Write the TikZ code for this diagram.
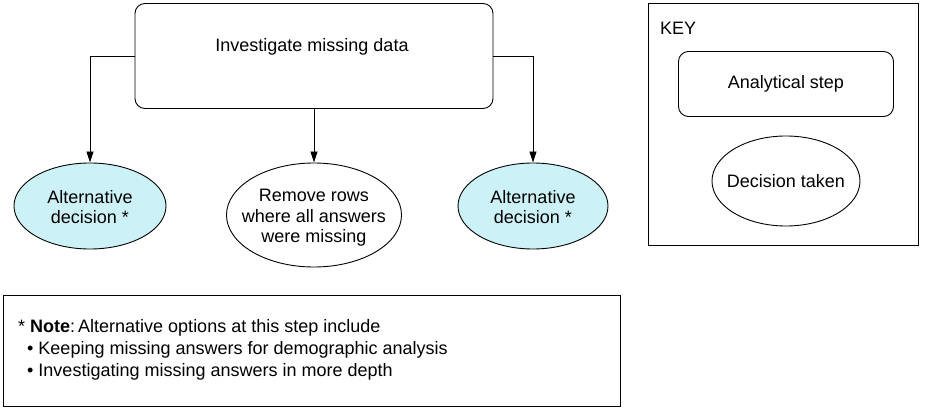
\documentclass[tikz,border=0pt]{standalone}
\usepackage{fontspec}
\setmainfont{Liberation Sans}
\usetikzlibrary{shapes.geometric,arrows.meta}
\definecolor{altfill}{RGB}{204,242,248}
\begin{document}
\begin{tikzpicture}[x=1pt,y=-1pt,
  every node/.style={font=\fontsize{18}{20.5}\selectfont},
  every label/.style={align=center, inner sep=0pt},
  stepbox/.style={draw, line width=0.9pt, rounded corners=10pt, align=center},
  decision/.style={draw, line width=0.9pt, ellipse, inner sep=0pt},
  frame/.style={draw, line width=0.9pt},
  conn/.style={line width=0.9pt, -{Triangle[length=11pt,width=7pt]}}]
\useasboundingbox (0,0) rectangle (927,409);
% main step
\node[stepbox, minimum width=358pt, minimum height=105pt] (main) at (314,56) {};
\node (maintxt) at (312,47) {Investigate missing data};
% decisions
\node[decision, fill=altfill, minimum width=152pt, minimum height=86pt,
  label={[yshift=-1pt]center:Alternative\\decision *}] (alt1) at (90,206) {};
\node[decision, minimum width=175pt, minimum height=104pt,
  label={[yshift=-3pt]center:Remove rows\\where all answers\\were missing}] (rem) at (314,215) {};
\node[decision, fill=altfill, minimum width=150pt, minimum height=86pt,
  label={[yshift=-1pt]center:Alternative\\decision *}] (alt2) at (533,206) {};
% connectors
\draw[conn] (main.west |- 0,56) -| (alt1.north);
\draw[conn] (main.south -| rem.north) -- (rem.north);
\draw[conn] (main.east |- 0,56) -| (alt2.north);
% key
\node[frame, minimum width=270pt, minimum height=242pt] (key) at (783,124) {};
\node[anchor=west, inner sep=0pt] (keytxt) at (660,28) {KEY};
\node[stepbox, minimum width=215pt, minimum height=65pt] (keystep) at (786,84) {Analytical step};
\node[decision, minimum width=148pt, minimum height=90pt,
  label={center:Decision taken}] (keydec) at (786,181) {};
% note
\node[frame, minimum width=617pt, minimum height=111pt] (note) at (311.5,350.5) {};
\node[anchor=north west, align=left, inner sep=0pt, font=\fontsize{18}{22}\selectfont] (notetxt) at (18,319) {* \textbf{Note}:\,Alternative options at this step include\\
\hspace{9pt}\textbullet\ Keeping missing answers for demographic analysis\\
\hspace{9pt}\textbullet\ Investigating missing answers in more depth};
\end{tikzpicture}
\end{document}
